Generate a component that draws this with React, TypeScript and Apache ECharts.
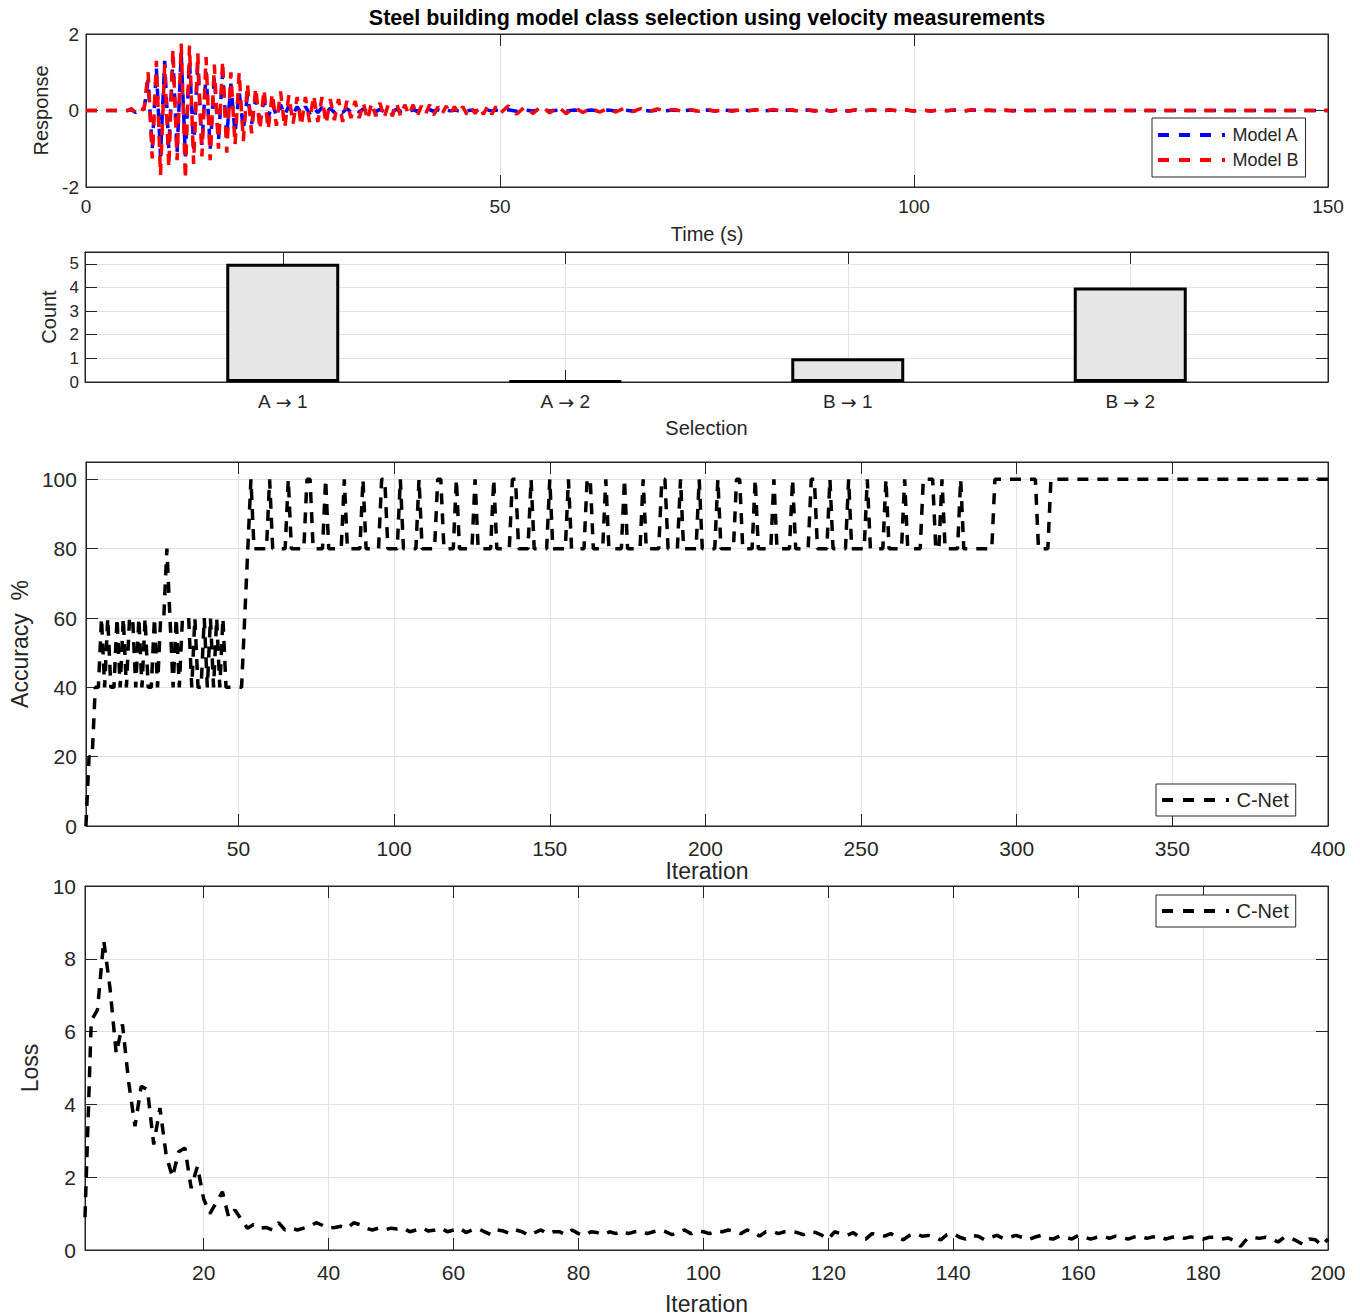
import React, { useEffect, useRef } from "react";
import * as echarts from "echarts";

// ---------- DATA ----------
const chartTitle = "Steel building model class selection using velocity measurements";

// Panel 1: response time history (s)
const respT = [
  0, 4, 5, 5.5, 6, 6.5, 7,
  7.5, 8, 8.5, 9, 9.5, 10, 10.5, 11, 11.5, 12,
  12.5, 13, 13.5, 14, 14.5, 15, 15.5, 16, 16.5, 17,
  17.5, 18, 18.5, 19, 19.5, 20, 20.5, 21, 21.5, 22,
  22.5, 23, 23.5, 24, 24.5, 25, 25.5, 26, 26.5, 27,
  27.5, 28, 28.5, 29, 29.5, 30, 30.5, 31, 31.5, 32,
  32.5, 33, 33.5, 34, 34.5, 35, 35.5, 36, 36.5, 37,
  37.5, 38, 38.5, 39, 39.5, 40, 40.5, 41, 41.5, 42,
  42.5, 43, 43.5, 44, 44.5, 45, 45.5, 46, 46.5, 47,
  47.5, 48, 48.5, 49, 49.5, 50,
  51, 52, 53, 54, 55, 56, 57, 58, 59, 60,
  61, 62, 63, 64, 65, 66, 67, 68, 69, 70,
  71, 72, 73, 74, 75, 76, 77, 78, 79, 80,
  81, 82, 83, 84, 85, 86, 87, 88, 89, 90,
  91, 92, 93, 94, 95, 96, 97, 98, 99, 100,
  101, 102, 103, 104, 105, 106, 107, 108, 109, 110,
  111, 112, 113, 114, 115, 116, 117, 118, 119, 120,
  150,
];
const respA = [
  0, 0, 0, 0.02, -0.05, 0.03, 0.01,
  0.8, -1.0, 1.1, -1.2, 1.3, -1.0, 1.4, -1.1, 1.5, -1.2,
  1.3, -1.0, 1.2, -0.9, 1.0, -1.0, 0.9, -0.8, 1.0, -0.7,
  0.7, -0.6, 0.5, -0.5, 0.4, -0.35, 0.3, -0.25, 0.25, -0.2,
  0.2, -0.15, 0.15, -0.12, 0.12, -0.1, 0.1, -0.08, 0.1, -0.08,
  0.08, -0.06, 0.08, -0.06, 0.06, -0.05, 0.05, -0.05, 0.05, -0.04,
  0.04, -0.04, 0.04, -0.03, 0.04, -0.03, 0.03, -0.03, 0.03, -0.02,
  0.03, -0.02, 0.02, -0.02, 0.02, -0.02, 0.02, -0.02, 0.02, -0.02,
  0.02, -0.02, 0.02, -0.01, 0.01, -0.01, 0.01, -0.01, 0.01, -0.01,
  0.01, -0.01, 0.01, -0.01, 0.01, -0.01,
  0.02, -0.02, 0.01, -0.01, 0.02, -0.01, 0.01, -0.01, 0.01, -0.01,
  0.01, -0.01, 0.01, -0.01, 0.01, -0.01, 0.01, -0.01, 0.01, -0.01,
  0.01, -0.01, 0.01, -0.01, 0.01, -0.01, 0.01, 0, 0.01, 0,
  0.01, -0.01, 0.01, 0, 0.01, -0.01, 0.01, 0, 0.01, -0.01,
  0.02, -0.01, 0.01, 0, 0.01, -0.01, 0.01, 0, 0.01, -0.01,
  0.01, -0.01, 0.01, 0, 0.01, -0.01, 0.01, 0, 0, 0,
  0, 0, 0, 0, 0, 0, 0, 0, 0, 0,
  0,
];
const respB = [
  0, 0, 0, 0.05, -0.08, 0.05, 0.02,
  1.0, -1.25, 1.3, -1.7, 1.2, -1.5, 1.6, -1.3, 1.75, -1.8,
  1.7, -1.4, 1.5, -1.2, 1.4, -1.3, 1.2, -1.0, 1.3, -1.1,
  1.0, -0.9, 1.0, -0.8, 0.7, -0.6, 0.6, -0.5, 0.55, -0.5,
  0.45, -0.4, 0.5, -0.45, 0.4, -0.35, 0.35, -0.4, 0.35, -0.3,
  0.4, -0.3, 0.35, -0.35, 0.3, -0.25, 0.3, -0.3, 0.25, -0.2,
  0.25, -0.2, 0.2, -0.25, 0.2, -0.15, 0.2, -0.2, 0.15, -0.15,
  0.2, -0.15, 0.15, -0.12, 0.15, -0.15, 0.12, -0.1, 0.15, -0.12,
  0.1, -0.1, 0.12, -0.1, 0.1, -0.08, 0.1, -0.1, 0.08, -0.08,
  0.1, -0.1, 0.12, -0.1, 0.1, -0.08,
  0.12, -0.1, 0.1, -0.08, 0.12, -0.06, 0.1, -0.08, 0.08, -0.05,
  0.06, -0.04, 0.05, -0.04, 0.06, -0.03, 0.05, -0.03, 0.04, -0.02,
  0.03, -0.02, 0.02, -0.02, 0.03, -0.02, 0.02, -0.02, 0.02, -0.01,
  0.02, -0.02, 0.03, -0.02, 0.02, -0.01, 0.02, -0.02, 0.03, -0.02,
  0.03, -0.02, 0.02, -0.01, 0.02, -0.02, 0.02, -0.01, 0.01, -0.01,
  0.02, -0.02, 0.02, -0.01, 0.02, -0.02, 0.02, -0.01, 0.01, -0.01,
  0.01, -0.01, 0.01, 0, 0.01, 0, 0.01, 0, 0, 0,
  0,
];

// Panel 2: selection counts
const selCategories = ["A \u2192 1", "A \u2192 2", "B \u2192 1", "B \u2192 2"];
const selCounts = [5, 0, 1, 4];

// Panel 3: accuracy (%) per iteration 1..400
const accuracy = [
  0, 20, 20, 40, 40, 60, 40, 60, 40, 40,
  60, 40, 60, 40, 60, 60, 40, 60, 40, 60,
  40, 40, 60, 40, 60, 60, 80, 60, 40, 60,
  40, 60, 60, 60, 40, 60, 40, 40, 60, 40,
  60, 40, 60, 40, 60, 40, 40, 40, 40, 40,
  40, 60, 80, 100, 80, 80, 80, 80, 80, 100,
  80, 80, 80, 80, 80, 100, 80, 80, 80, 80,
  80, 100, 100, 80, 80, 80, 80, 100, 80, 80,
  80, 80, 80, 100, 80, 80, 80, 80, 80, 100,
  80, 80, 80, 80, 80, 100, 100, 80, 80, 80,
  80, 100, 80, 80, 80, 80, 80, 100, 80, 80,
  80, 80, 80, 100, 100, 80, 80, 80, 80, 100,
  80, 80, 80, 80, 80, 100, 80, 80, 80, 80,
  80, 100, 80, 80, 80, 80, 80, 100, 100, 80,
  80, 80, 80, 100, 80, 80, 80, 80, 80, 100,
  80, 80, 80, 80, 80, 100, 80, 80, 80, 80,
  80, 100, 100, 80, 80, 80, 80, 100, 80, 80,
  80, 80, 80, 100, 80, 80, 80, 80, 80, 100,
  80, 80, 80, 80, 80, 100, 100, 80, 80, 80,
  80, 100, 80, 80, 80, 80, 80, 100, 80, 80,
  80, 80, 80, 100, 80, 80, 80, 80, 80, 100,
  100, 80, 80, 80, 80, 100, 80, 80, 80, 80,
  80, 100, 80, 80, 80, 80, 80, 100, 80, 80,
  80, 80, 80, 100, 100, 80, 80, 80, 80, 100,
  80, 80, 80, 80, 80, 100, 80, 80, 80, 80,
  80, 100, 80, 80, 80, 80, 80, 100, 80, 80,
  80, 80, 80, 100, 80, 80, 80, 80, 80, 100,
  100, 100, 100, 80, 80, 100, 80, 80, 80, 80,
  80, 100, 80, 80, 80, 80, 80, 80, 80, 80,
  80, 80, 100, 100, 100, 100, 100, 100, 100, 100,
  100, 100, 100, 100, 100, 100, 80, 80, 80, 80,
  100, 100, 100, 100, 100, 100, 100, 100, 100, 100,
  100, 100, 100, 100, 100, 100, 100, 100, 100, 100,
  100, 100, 100, 100, 100, 100, 100, 100, 100, 100,
  100, 100, 100, 100, 100, 100, 100, 100, 100, 100,
  100, 100, 100, 100, 100, 100, 100, 100, 100, 100,
  100, 100, 100, 100, 100, 100, 100, 100, 100, 100,
  100, 100, 100, 100, 100, 100, 100, 100, 100, 100,
  100, 100, 100, 100, 100, 100, 100, 100, 100, 100,
  100, 100, 100, 100, 100, 100, 100, 100, 100, 100,
];

// Panel 4: loss per iteration 1..200
const loss = [
  0.9, 6.3, 6.6, 8.5, 7.2, 5.4, 6.2, 4.6, 3.4, 4.5,
  4.4, 2.9, 3.9, 2.6, 2.0, 2.7, 2.8, 1.7, 2.3, 1.4,
  1.0, 1.3, 1.6, 0.9, 1.1, 0.85, 0.6, 0.7, 0.6, 0.62,
  0.55, 0.75, 0.55, 0.6, 0.55, 0.6, 0.65, 0.75, 0.68, 0.6,
  0.62, 0.65, 0.6, 0.75, 0.7, 0.6, 0.55, 0.6, 0.55, 0.6,
  0.58, 0.6, 0.5, 0.55, 0.6, 0.52, 0.55, 0.6, 0.5, 0.55,
  0.6, 0.48, 0.55, 0.58, 0.5, 0.42, 0.55, 0.52, 0.45, 0.55,
  0.5, 0.4, 0.48, 0.55, 0.45, 0.5, 0.5, 0.42, 0.55, 0.45,
  0.4, 0.5, 0.48, 0.42, 0.5, 0.45, 0.52, 0.45, 0.5, 0.52,
  0.45, 0.5, 0.55, 0.5, 0.42, 0.5, 0.55, 0.45, 0.52, 0.5,
  0.45, 0.52, 0.5, 0.55, 0.5, 0.45, 0.55, 0.5, 0.38, 0.5,
  0.52, 0.45, 0.5, 0.52, 0.48, 0.42, 0.5, 0.48, 0.4, 0.3,
  0.5, 0.45, 0.4, 0.48, 0.35, 0.3, 0.45, 0.42, 0.38, 0.45,
  0.35, 0.28, 0.4, 0.45, 0.38, 0.4, 0.35, 0.28, 0.42, 0.45,
  0.35, 0.3, 0.4, 0.38, 0.28, 0.35, 0.4, 0.32, 0.35, 0.4,
  0.35, 0.28, 0.35, 0.4, 0.32, 0.3, 0.38, 0.35, 0.3, 0.4,
  0.35, 0.3, 0.35, 0.38, 0.32, 0.38, 0.35, 0.3, 0.36, 0.38,
  0.32, 0.36, 0.38, 0.3, 0.35, 0.37, 0.32, 0.36, 0.33, 0.3,
  0.35, 0.35, 0.3, 0.33, 0.26, 0.1, 0.3, 0.35, 0.32, 0.35,
  0.3, 0.22, 0.35, 0.33, 0.25, 0.15, 0.3, 0.28, 0.12, 0.3,
];

const respXTicks = [0, 50, 100, 150];
const respYTicks = [-2, 0, 2];
const selXTicks = [1, 2, 3, 4];
const selYTicks = [0, 1, 2, 3, 4, 5];
const accXTicks = [50, 100, 150, 200, 250, 300, 350, 400];
const accYTicks = [0, 20, 40, 60, 80, 100];
const lossXTicks = [20, 40, 60, 80, 100, 120, 140, 160, 180, 200];
const lossYTicks = [0, 2, 4, 6, 8, 10];

// ---------- STYLE ----------
const TEXT = "#262626";
const GRIDC = "#e2e2e2";
const FONT = "'Liberation Sans', Arial, Helvetica, sans-serif";
const DASH = [11, 9];
// legend sample "— — — ·"
const LEGEND_ICON = "path://M0,0h11v4h-11zM21,0h11v4h-11zM42,0h11v4h-11zM64,0h3v4h-3z";

type AxOpt = {
  ticks: number[];
  labelSize: number;
  labelMargin: number;
  name?: string;
  nameGap?: number;
  nameSize?: number;
  formatter?: (v: number) => string;
  rich?: any;
};

function mkX(gi: number, min: number, max: number, o: AxOpt) {
  const line = { show: true, onZero: false, lineStyle: { color: TEXT, width: 1 } };
  const tick = { show: true, inside: true, length: 12, lineStyle: { color: TEXT, width: 1 }, customValues: o.ticks };
  const label: any = {
    show: true, color: TEXT, fontSize: o.labelSize, fontFamily: FONT, margin: o.labelMargin,
    customValues: o.ticks,
  };
  if (o.formatter) label.formatter = o.formatter;
  if (o.rich) label.rich = o.rich;
  return [
    {
      type: "value", gridIndex: gi, min, max, position: "bottom",
      axisLine: line, axisTick: tick, axisLabel: label,
      splitLine: { show: true, lineStyle: { color: GRIDC, width: 1 } },
      name: o.name || "", nameLocation: "middle", nameGap: o.nameGap || 0,
      nameTextStyle: { color: TEXT, fontSize: o.nameSize || 14, fontFamily: FONT },
    },
    {
      type: "value", gridIndex: gi, min, max, position: "top",
      axisLine: line, axisTick: tick, axisLabel: { show: false },
      splitLine: { show: false },
    },
  ];
}

function mkY(gi: number, min: number, max: number, o: AxOpt) {
  const line = { show: true, onZero: false, lineStyle: { color: TEXT, width: 1 } };
  const tick = { show: true, inside: true, length: 12, lineStyle: { color: TEXT, width: 1 }, customValues: o.ticks };
  return [
    {
      type: "value", gridIndex: gi, min, max, position: "left",
      axisLine: line, axisTick: tick,
      axisLabel: {
        show: true, color: TEXT, fontSize: o.labelSize, fontFamily: FONT, margin: o.labelMargin,
        customValues: o.ticks,
      },
      splitLine: { show: true, lineStyle: { color: GRIDC, width: 1 } },
      name: o.name || "", nameLocation: "middle", nameGap: o.nameGap || 0, nameRotate: 90,
      nameTextStyle: { color: TEXT, fontSize: o.nameSize || 14, fontFamily: FONT },
    },
    {
      type: "value", gridIndex: gi, min, max, position: "right",
      axisLine: line, axisTick: tick, axisLabel: { show: false },
      splitLine: { show: false },
    },
  ];
}

function legendBox(top: number, left: number, names: string[], size: number, padding: number[], gap: number) {
  return {
    data: names,
    orient: "vertical",
    left,
    top,
    padding,
    itemGap: gap,
    itemWidth: 70,
    itemHeight: 4,
    icon: LEGEND_ICON,
    backgroundColor: "#ffffff",
    borderColor: TEXT,
    borderWidth: 1,
    borderRadius: 0,
    selectedMode: false,
    textStyle: { color: TEXT, fontSize: size, fontFamily: FONT, padding: [0, 0, 0, 1] },
  };
}

function buildOption() {
  const grids = [
    { left: 86, top: 34, width: 1242, height: 153 },
    { left: 85, top: 252, width: 1243, height: 130 },
    { left: 85, top: 462, width: 1243, height: 364 },
    { left: 85, top: 886, width: 1243, height: 364 },
  ].map((g) => ({ ...g, show: true, borderColor: TEXT, borderWidth: 1, backgroundColor: "#fff" }));

  const xAxis = [
    ...mkX(0, 0, 150, { ticks: respXTicks, labelSize: 19, labelMargin: 10, name: "Time (s)", nameGap: 37, nameSize: 20 }),
    ...mkX(1, 0.3, 4.7, {
      ticks: selXTicks, labelSize: 19, labelMargin: 10, name: "Selection", nameGap: 36, nameSize: 20,
      formatter: (v: number) => {
        const s = selCategories[Math.round(v) - 1] || "";
        return s.replace(" \u2192 ", "\u00a0{a|\u2192}\u00a0");
      },
      rich: { a: { fontFamily: "'DejaVu Sans', sans-serif", fontSize: 19, color: TEXT } },
    }),
    ...mkX(2, 1, 400, { ticks: accXTicks, labelSize: 21, labelMargin: 12, name: "Iteration", nameGap: 31, nameSize: 23 }),
    ...mkX(3, 1, 200, { ticks: lossXTicks, labelSize: 21, labelMargin: 12, name: "Iteration", nameGap: 42, nameSize: 23 }),
  ];
  const yAxis = [
    ...mkY(0, -2, 2, { ticks: respYTicks, labelSize: 19, labelMargin: 7, name: "Response", nameGap: 32, nameSize: 20 }),
    ...mkY(1, 0, 5.5, { ticks: selYTicks, labelSize: 17, labelMargin: 6, name: "Count", nameGap: 24, nameSize: 20 }),
    ...mkY(2, 0, 105, { ticks: accYTicks, labelSize: 21, labelMargin: 9, name: "Accuracy  %", nameGap: 54, nameSize: 23 }),
    ...mkY(3, 0, 10, { ticks: lossYTicks, labelSize: 21, labelMargin: 9, name: "Loss", nameGap: 40, nameSize: 23 }),
  ];

  const lineSeries = (name: string, xi: number, data: number[][], color: string) => ({
    name,
    type: "line",
    xAxisIndex: xi,
    yAxisIndex: xi,
    data,
    symbol: "none",
    showSymbol: false,
    smooth: false,
    lineStyle: { color, width: 3.5, type: DASH },
    itemStyle: { color },
    z: 3,
  });

  const series: any[] = [
    lineSeries("Model A", 0, respT.map((t, i) => [t, respA[i]]), "#0000ff"),
    lineSeries("Model B", 0, respT.map((t, i) => [t, respB[i]]), "#ff0000"),
    {
      name: "Counts",
      type: "bar",
      xAxisIndex: 2,
      yAxisIndex: 2,
      data: selCounts.map((c, i) => [i + 1, c]),
      barWidth: 113,
      barMinHeight: 1,
      itemStyle: { color: "#e6e6e6", borderColor: "#000000", borderWidth: 3 },
      z: 3,
    },
    lineSeries("C-Net", 4, accuracy.map((v, i) => [i + 1, v]), "#000000"),
    lineSeries("C-Net", 6, loss.map((v, i) => [i + 1, v]), "#000000"),
  ];

  return {
    animation: false,
    backgroundColor: "#ffffff",
    textStyle: { fontFamily: FONT },
    title: {
      text: chartTitle,
      left: 707,
      top: 7,
      padding: 0,
      textAlign: "center",
      textStyle: { color: "#000", fontSize: 21.5, fontWeight: "bold", fontFamily: FONT },
    },
    grid: grids,
    xAxis,
    yAxis,
    legend: [
      legendBox(118, 1152, ["Model A", "Model B"], 18, [8, 7, 8, 6], 7),
      legendBox(784, 1156, ["C-Net"], 20, [6, 7, 6, 6], 5),
      legendBox(895, 1156, ["C-Net"], 20, [6, 7, 6, 6], 5),
    ],
    series,
  };
}

export default function App() {
  const ref = useRef<HTMLDivElement | null>(null);
  useEffect(() => {
    if (!ref.current) return;
    const chart = echarts.init(ref.current, undefined, { renderer: "svg" });
    chart.setOption(buildOption() as any);
    return () => chart.dispose();
  }, []);
  return (
    <div
      ref={ref}
      style={{ position: "absolute", left: 0, top: 0, width: 1360, height: 1316, background: "#fff" }}
    />
  );
}
